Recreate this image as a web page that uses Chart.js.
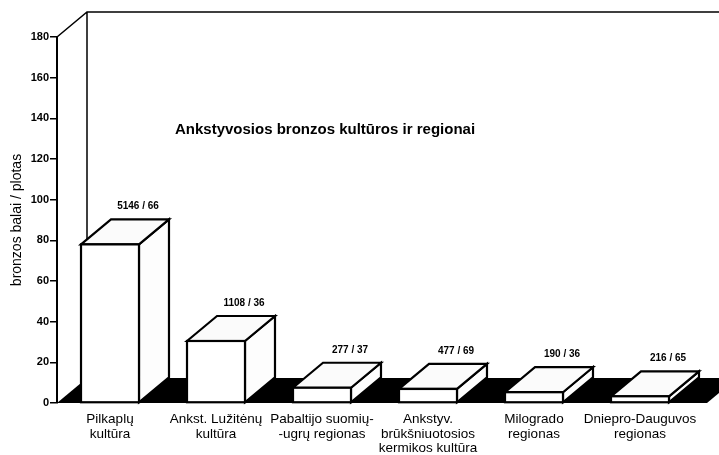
<!DOCTYPE html>
<html>
<head>
<meta charset="UTF-8">
<title>Ankstyvosios bronzos kultūros ir regionai</title>
<script src="https://cdn.jsdelivr.net/npm/chart.js"></script>
<style>
  body { margin: 0; background: #fff; }
  #wrap { width: 719px; height: 455px; }
</style>
</head>
<body>
<div id="wrap"><canvas id="bronzeChart" width="719" height="455"></canvas></div>
<script>
// category labels (multi-line)
const categories = [
  ['Pilkaplų', 'kultūra'],
  ['Ankst. Lužitėnų', 'kultūra'],
  ['Pabaltijo suomių-', '-ugrų regionas'],
  ['Ankstyv.', 'brūkšniuotosios', 'kermikos kultūra'],
  ['Milogrado', 'regionas'],
  ['Dniepro-Dauguvos', 'regionas']
];
// bar heights (bronzos balai / plotas)
const values = [78, 30.5, 7.5, 6.9, 5.3, 3.3];
// labels over the bars: counts / areas
const counts = [5146, 1108, 277, 477, 190, 216];
const areas = [66, 36, 37, 69, 36, 65];
const yMin = 0, yMax = 180, yStep = 20;

const chartTitle = 'Ankstyvosios bronzos kultūros ir regionai';
const yTitle = 'bronzos balai / plotas';

const DX = 30, DY = 25;   // 3d depth offset
const FONT = '"Liberation Sans", Arial, sans-serif';

// floor, back wall and 3d boxes
const box3d = {
  id: 'box3d',
  beforeDatasetsDraw(chart) {
    const { ctx, chartArea: a } = chart;
    ctx.save();
    ctx.fillStyle = '#000';
    ctx.beginPath();
    ctx.moveTo(a.left, a.bottom);
    ctx.lineTo(a.right + 14, a.bottom);
    ctx.lineTo(a.right + 14 + DX, a.bottom - DY);
    ctx.lineTo(a.left + DX, a.bottom - DY);
    ctx.closePath();
    ctx.fill();

    ctx.strokeStyle = '#000';
    ctx.lineWidth = 1.5;
    ctx.beginPath();
    ctx.moveTo(a.left, a.top);
    ctx.lineTo(a.left + DX, a.top - DY);
    ctx.lineTo(chart.width, a.top - DY);
    ctx.moveTo(a.left + DX, a.top - DY);
    ctx.lineTo(a.left + DX, a.bottom - DY);
    ctx.stroke();
    ctx.restore();
  },
  afterDatasetsDraw(chart) {
    const { ctx } = chart;
    const meta = chart.getDatasetMeta(0);
    ctx.save();
    ctx.strokeStyle = '#000';
    ctx.lineWidth = 2.2;
    ctx.lineJoin = 'miter';
    meta.data.forEach((el, i) => {
      const x0 = el.x - el.width / 2, x1 = el.x + el.width / 2;
      const yt = el.y, yb = el.base;
      // side face
      ctx.fillStyle = '#fdfdfd';
      ctx.beginPath();
      ctx.moveTo(x1, yt);
      ctx.lineTo(x1 + DX, yt - DY);
      ctx.lineTo(x1 + DX, yb - DY);
      ctx.lineTo(x1, yb);
      ctx.closePath();
      ctx.fill();
      ctx.stroke();
      // top face
      ctx.fillStyle = '#fbfbfb';
      ctx.beginPath();
      ctx.moveTo(x0, yt);
      ctx.lineTo(x0 + DX, yt - DY);
      ctx.lineTo(x1 + DX, yt - DY);
      ctx.lineTo(x1, yt);
      ctx.closePath();
      ctx.fill();
      ctx.stroke();
      // front face
      ctx.fillStyle = '#fff';
      ctx.fillRect(x0, yt, x1 - x0, yb - yt);
      ctx.strokeRect(x0, yt, x1 - x0, yb - yt);

      ctx.fillStyle = '#000';
      ctx.font = 'bold 10px ' + FONT;
      ctx.textAlign = 'center';
      ctx.textBaseline = 'middle';
      ctx.fillText(counts[i] + ' / ' + areas[i], el.x + 28, yt - DY - 13);
    });

    ctx.font = 'bold 15px ' + FONT;
    ctx.textAlign = 'left';
    ctx.textBaseline = 'middle';
    ctx.fillText(chartTitle, 175, 130);
    ctx.restore();
  }
};

const ctx = document.getElementById('bronzeChart').getContext('2d');
const bronzeChart = new Chart(ctx, {
  type: 'bar',
  data: {
    labels: categories,
    datasets: [{
      data: values,
      backgroundColor: 'rgba(0,0,0,0)',
      borderWidth: 0,
      categoryPercentage: 1,
      barPercentage: 0.547
    }]
  },
  options: {
    responsive: false,
    animation: false,
    layout: { padding: { top: 37, right: 26, left: 0, bottom: 0 } },
    plugins: {
      legend: { display: false },
      tooltip: { enabled: false }
    },
    scales: {
      x: {
        afterFit(scale) { scale.height = 52; },
        grid: { display: false, drawTicks: false },
        border: { display: false },
        ticks: {
          color: '#000',
          padding: 9,
          maxRotation: 0,
          autoSkip: false,
          font: { family: FONT, size: 13.5, lineHeight: 1.08 }
        }
      },
      y: {
        min: yMin,
        max: yMax,
        afterFit(scale) { scale.width = 57; },
        grid: { drawOnChartArea: false, drawTicks: true, tickLength: 7, color: '#000', lineWidth: 1.5 },
        border: { display: true, color: '#000', width: 2 },
        ticks: {
          stepSize: yStep,
          color: '#000',
          padding: 1,
          font: { family: FONT, size: 11, weight: 'bold' }
        },
        title: {
          display: true,
          text: yTitle,
          color: '#000',
          padding: { top: 9, bottom: 0 },
          font: { family: FONT, size: 14 }
        }
      }
    }
  },
  plugins: [box3d]
});
</script>
</body>
</html>
